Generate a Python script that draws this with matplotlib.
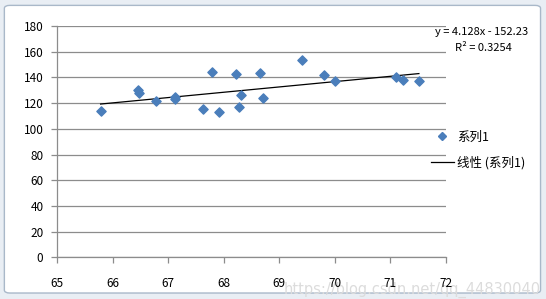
import numpy as np
import matplotlib.pyplot as plt
from matplotlib.patches import FancyBboxPatch
from matplotlib.lines import Line2D

plt.rcParams['font.family'] = ['Noto Sans CJK SC', 'DejaVu Sans']

# data
height = [65.78, 66.45, 66.48, 66.78, 67.12, 67.12, 67.63, 67.79, 67.91, 68.22,
          68.31, 68.28, 68.65, 68.70, 69.41, 69.80, 70.01, 71.10, 71.24, 71.52]
weight = [113.9, 130.2, 127.7, 121.5, 124.6, 123.0, 115.2, 144.5, 113.4, 142.7,
          126.4, 117.0, 143.5, 124.0, 153.3, 141.7, 137.0, 140.4, 138.3, 137.0]
slope = 4.128
intercept = -152.23
r2 = 0.3254
series_name = '系列1'
trend_name = '线性 (系列1)'

fig = plt.figure(figsize=(5.46, 2.99), dpi=100)
fig.patch.set_facecolor('#e9eef4')

# chart frame like excel
frame = FancyBboxPatch((0.008, 0.02), 0.982, 0.962, boxstyle='round,pad=0,rounding_size=0.01',
                       transform=fig.transFigure, facecolor='white', edgecolor='#a9b8c9', lw=1.0,
                       zorder=-10)
fig.patches.append(frame)

ax = fig.add_axes([0.105, 0.139, 0.711, 0.774])
ax.set_facecolor('none')

ax.scatter(height, weight, marker='D', s=22, color='#4a7ebb', zorder=3, label=series_name)
xs = np.array([min(height), max(height)])
ax.plot(xs, slope * xs + intercept, color='black', lw=0.9, zorder=2, label=trend_name)

ax.set_xlim(65, 72)
ax.set_ylim(0, 180)
ax.set_xticks(range(65, 73))
ax.set_yticks(range(0, 181, 20))
ax.yaxis.grid(True, color='#8c8c8c', lw=0.9)
ax.set_axisbelow(True)
for s in ['top', 'right']:
    ax.spines[s].set_visible(False)
for s in ['left', 'bottom']:
    ax.spines[s].set_color('#8c8c8c')
    ax.spines[s].set_linewidth(0.9)
ax.tick_params(axis='both', colors='#8c8c8c', labelcolor='black', labelsize=8.5, length=4, width=0.9)
ax.tick_params(axis='x', pad=10)
ax.tick_params(axis='y', pad=6)

fig.text(0.882, 0.893, f'y = {slope}x - {-intercept}', fontsize=8, ha='center', va='center')
fig.text(0.885, 0.84, f'R² = {r2}', fontsize=8, ha='center', va='center')

handles = [Line2D([], [], marker='D', color='#4a7ebb', ls='none', markersize=4.5),
           Line2D([], [], color='black', lw=0.9)]
fig.legend(handles, [series_name, trend_name], loc='upper left', bbox_to_anchor=(0.768, 0.6),
           frameon=False, fontsize=9, handlelength=1.85, handletextpad=0.3, labelspacing=1.0)

fig.text(0.99, 0.005, 'https://blog.csdn.net/qq_44830040', fontsize=10.5, color='#dcdcdc',
         ha='right', va='bottom', family='DejaVu Sans', zorder=-5)

fig.savefig('out.png', dpi=100)
